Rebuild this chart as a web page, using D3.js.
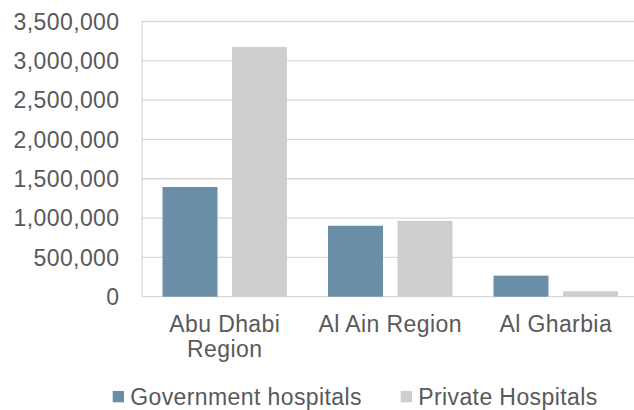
<!DOCTYPE html>
<html>
<head>
<meta charset="utf-8">
<script src="https://cdn.jsdelivr.net/npm/d3@7"></script>
<style>
  html, body { margin: 0; padding: 0; background: #fff; }
  svg { display: block; }
  text { font-family: "Liberation Sans", Arial, sans-serif; fill: #595959; letter-spacing: 0.4px; }
</style>
</head>
<body>
<svg id="chart" width="634" height="410"></svg>
<script>
const categories = [["Abu Dhabi", "Region"], ["Al Ain Region"], ["Al Gharbia"]];
const categoryKeys = ["Abu Dhabi Region", "Al Ain Region", "Al Gharbia"];
const seriesNames = ["Government hospitals", "Private Hospitals"];
const government = [1395000, 902000, 268000];
const privateH = [3175000, 965000, 69000];
const yTicks = [0, 500000, 1000000, 1500000, 2000000, 2500000, 3000000, 3500000];
const colors = ["#6a8ea7", "#cfcecc"];

const svg = d3.select("#chart");
const plotLeft = 142, plotRight = 638.5, plotTop = 21.5, plotBottom = 296.7;

const x0 = d3.scaleBand().domain(categoryKeys).range([plotLeft, plotRight]).padding(0);
const x1 = d3.scaleBand().domain(seriesNames).range([0, x0.bandwidth()])
  .paddingInner(0.2086).paddingOuter(0.295);
const y = d3.scaleLinear().domain([0, 3500000]).range([plotBottom, plotTop]);

// gridlines
svg.append("g").selectAll("line").data(yTicks).join("line")
  .attr("x1", plotLeft).attr("x2", 634)
  .attr("y1", d => y(d)).attr("y2", d => y(d))
  .attr("stroke", "#d9d9d9").attr("stroke-width", 1.3);

// left axis line
svg.append("line").attr("x1", plotLeft).attr("x2", plotLeft)
  .attr("y1", plotTop).attr("y2", plotBottom)
  .attr("stroke", "#d9d9d9").attr("stroke-width", 1.3);

// y labels
const fmt = d3.format(",");
svg.append("g").selectAll("text").data(yTicks).join("text")
  .attr("x", 119.5).attr("y", d => y(d)).attr("dy", "0.36em")
  .attr("text-anchor", "end").style("font-size", "23px")
  .text(d => fmt(d));

// bars
const data = categoryKeys.map((c, i) => ({ cat: c, values: [government[i], privateH[i]] }));
const groups = svg.append("g").selectAll("g").data(data).join("g")
  .attr("transform", d => `translate(${x0(d.cat)},0)`);
groups.selectAll("rect").data(d => d.values.map((v, j) => ({ s: seriesNames[j], v, j })))
  .join("rect")
  .attr("x", d => x1(d.s)).attr("width", x1.bandwidth())
  .attr("y", d => y(d.v)).attr("height", d => y(0) - y(d.v))
  .attr("fill", d => colors[d.j]);

// category labels
const catG = svg.append("g").selectAll("text").data(categoryKeys).join("text")
  .attr("text-anchor", "middle").style("font-size", "23px")
  .attr("x", d => x0(d) + x0.bandwidth() / 2).attr("y", 331.5);
catG.each(function(d, i) {
  const t = d3.select(this);
  categories[i].forEach((line, k) => {
    t.append("tspan").attr("x", x0(d) + x0.bandwidth() / 2)
      .attr("dy", k === 0 ? 0 : 25).text(line);
  });
});

// legend
const legendX = [112.7, 400.7];
const leg = svg.append("g").selectAll("g").data(seriesNames).join("g")
  .attr("transform", (d, i) => `translate(${legendX[i]},0)`);
leg.append("rect").attr("x", 0).attr("y", 391).attr("width", 11.3).attr("height", 11.3)
  .attr("fill", (d, i) => colors[i]);
leg.append("text").attr("x", 17.5).attr("y", 404.5).style("font-size", "23px").text(d => d);
</script>
</body>
</html>
